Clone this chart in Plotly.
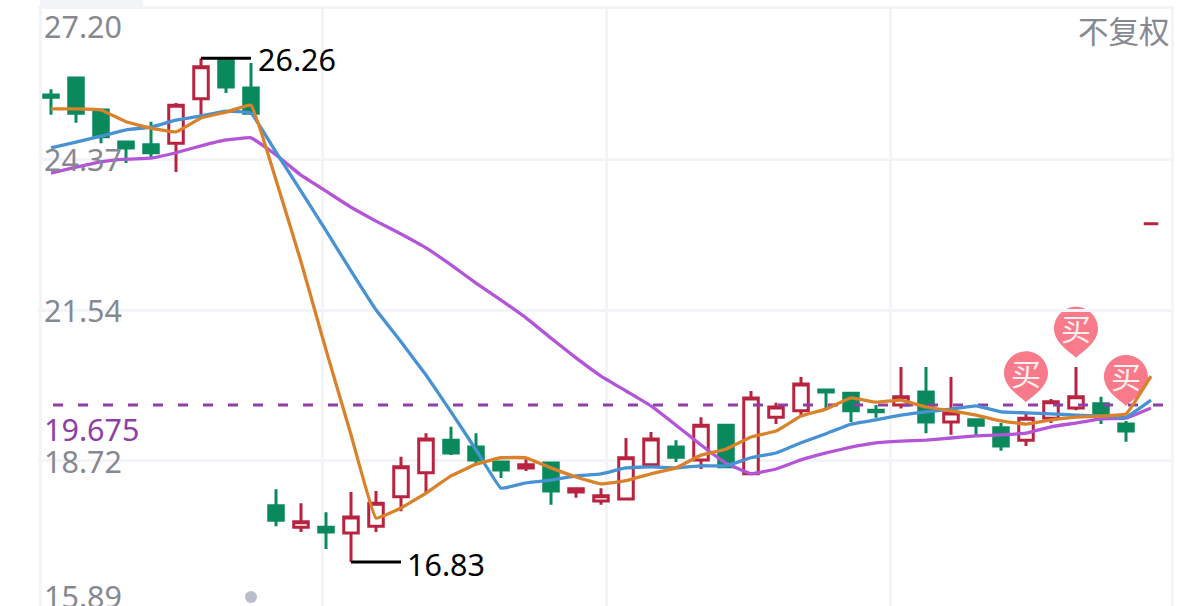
import plotly.graph_objects as go

index = list(range(45))
opens = [25.57,25.89,25.29,24.69,24.64,24.67,25.50,26.24,25.70,17.88,17.48,17.48,17.37,17.50,18.05,18.50,19.11,18.98,18.70,18.59,18.68,18.14,17.97,18.01,18.65,18.98,18.74,19.39,18.48,19.54,19.66,20.05,19.99,19.67,19.77,20.01,19.45,19.49,19.34,19.11,19.52,19.71,19.79,19.41,23.16]
highs = [25.68,25.89,25.29,24.69,25.07,25.42,26.26,26.26,26.17,18.19,17.93,17.76,18.14,18.16,18.80,19.24,19.36,19.24,18.70,18.76,18.68,18.23,18.21,19.15,19.26,19.11,19.54,19.39,20.03,19.81,20.29,20.05,19.99,19.77,20.48,20.48,20.29,19.49,19.43,19.60,19.88,20.48,19.92,19.47,23.16]
lows = [25.20,25.05,24.67,24.30,24.41,24.13,25.20,25.61,25.23,17.50,17.39,17.07,16.83,17.39,17.78,18.14,18.83,18.68,18.40,18.53,17.90,18.03,17.90,18.01,18.65,18.70,18.57,18.61,18.48,19.41,19.58,19.71,19.45,19.53,19.70,19.24,19.21,19.19,18.91,19.00,19.43,19.67,19.41,19.08,23.16]
closes = [25.53,25.23,24.79,24.58,24.49,25.38,26.10,25.72,25.23,17.61,17.58,17.39,17.67,17.93,18.61,19.13,18.87,18.74,18.55,18.65,18.16,18.20,18.07,18.78,19.13,18.79,19.39,18.61,19.90,19.73,20.16,20.01,19.66,19.64,19.92,19.45,19.62,19.39,19.00,19.52,19.83,19.92,19.56,19.28,23.16]

ma5 = [25.31,25.31,25.29,25.07,24.95,24.88,25.14,25.25,25.38,23.98,22.45,20.80,19.21,17.65,17.84,18.12,18.44,18.66,18.78,18.78,18.59,18.42,18.29,18.35,18.48,18.59,18.83,18.94,19.17,19.28,19.56,19.69,19.90,19.82,19.86,19.73,19.66,19.58,19.47,19.41,19.49,19.54,19.56,19.60,20.31]
ma10 = [24.58,24.69,24.80,24.92,24.97,25.10,25.18,25.27,25.23,24.50,23.77,23.03,22.28,21.55,20.95,20.33,19.64,18.93,18.21,18.31,18.36,18.44,18.48,18.59,18.61,18.59,18.63,18.63,18.78,18.87,19.06,19.23,19.41,19.49,19.58,19.64,19.69,19.75,19.64,19.62,19.60,19.58,19.56,19.54,19.86]
ma20 = [24.11,24.22,24.32,24.37,24.39,24.49,24.62,24.73,24.77,24.45,24.07,23.77,23.47,23.21,22.97,22.71,22.39,22.05,21.73,21.40,21.02,20.65,20.31,20.03,19.75,19.39,19.02,18.68,18.48,18.57,18.74,18.87,18.98,19.06,19.09,19.11,19.15,19.19,19.21,19.24,19.36,19.43,19.51,19.52,19.71]

price_grid = [27.20, 24.37, 21.54, 18.72]
price_labels = ["27.20", "24.37", "21.54", "18.72"]
price_label_values = [27.20, 24.37, 21.54, 18.72]
price_label_shift = [-18, 0, 0, 0]
bottom_label = "15.89"
time_grid = [-0.44, 10.84, 22.2, 33.56, 44.84]
ref_span = [-0.92, 44.6]
ref_price = 19.77
ref_label = "19.675"
high_idx, high_val = 6, 26.26
low_idx, low_val = 12, 16.83
buy_idx = [39, 41, 43]
buy_tip = [19.82, 20.65, 19.75]

GRID = "#f3f4f8"
GRAY = "#868991"
FONT = "Noto Sans, Noto Sans CJK SC, sans-serif"
RED, GREEN = "#b8233f", "#0a8a5c"
LEFT = 0.0032
SIZE = 30.5

fig = go.Figure()
fig.add_trace(go.Candlestick(
    x=index, open=opens, high=highs, low=lows, close=closes,
    increasing=dict(line=dict(color=RED, width=3), fillcolor="#ffffff"),
    decreasing=dict(line=dict(color=GREEN, width=3), fillcolor=GREEN),
    whiskerwidth=0, hoverinfo="skip", showlegend=False))

fig.add_trace(go.Scatter(x=ref_span, y=[ref_price, ref_price], mode="lines",
                         line=dict(color="#8e3fa8", width=3, dash="10px,15px"), showlegend=False))

for vals, col in ((ma20, "#b455d8"), (ma10, "#4692d4"), (ma5, "#d9822b")):
    fig.add_trace(go.Scatter(x=index, y=vals, mode="lines",
                             line=dict(color=col, width=3.3, shape="spline", smoothing=0.25),
                             showlegend=False))

fig.add_trace(go.Scatter(x=[high_idx, high_idx + 2], y=[high_val, high_val], mode="lines",
                         line=dict(color="#000000", width=3), showlegend=False))
fig.add_trace(go.Scatter(x=[low_idx, low_idx + 2], y=[low_val, low_val], mode="lines",
                         line=dict(color="#000000", width=3), showlegend=False))

annotations = []
for txt, v, s in zip(price_labels, price_label_values, price_label_shift):
    annotations.append(dict(x=LEFT, xref="paper", y=v, yref="y", yshift=s, text=txt, showarrow=False,
                            xanchor="left", yanchor="middle", font=dict(family=FONT, size=SIZE, color=GRAY)))
annotations.append(dict(x=LEFT, xref="paper", y=0.0167, yref="paper", text=bottom_label, showarrow=False,
                        xanchor="left", yanchor="middle", font=dict(family=FONT, size=SIZE, color=GRAY)))
annotations.append(dict(x=LEFT, xref="paper", y=ref_price, yref="y", yshift=-24, text=ref_label, showarrow=False,
                        xanchor="left", yanchor="middle", font=dict(family=FONT, size=SIZE, color="#8e3fa8")))
annotations.append(dict(x=high_idx + 2, y=high_val, xshift=5, yshift=-1, text=f"{high_val:.2f}", showarrow=False,
                        xanchor="left", yanchor="middle", font=dict(family=FONT, size=SIZE, color="#000000")))
annotations.append(dict(x=low_idx + 2, y=low_val, xshift=4, yshift=-2, text=f"{low_val:.2f}", showarrow=False,
                        xanchor="left", yanchor="middle", font=dict(family=FONT, size=SIZE, color="#000000")))
annotations.append(dict(x=0.998, xref="paper", y=0.959, yref="paper", text="不复权", showarrow=False,
                        xanchor="right", yanchor="middle", font=dict(family=FONT, size=SIZE, color=GRAY)))

PIN = "M0,0 C-6,6 -22,15 -22,29 C-22,41 -12,51 0,51 C12,51 22,41 22,29 C22,15 6,6 0,0 Z"
shapes = [dict(type="rect", xref="paper", yref="paper", x0=0.0018, x1=0.0924, y0=1.0, y1=1.012,
               fillcolor=GRID, line=dict(width=0)),
          dict(type="circle", xref="x", yref="paper", xsizemode="pixel", ysizemode="pixel",
               xanchor=8, yanchor=0.015, x0=-6, x1=6, y0=-6, y1=6, fillcolor="#b9bdc9", line=dict(width=0))]
for i, t in zip(buy_idx, buy_tip):
    shapes.append(dict(type="path", xref="x", yref="y", xsizemode="pixel", ysizemode="pixel",
                       xanchor=i, yanchor=t, path=PIN, fillcolor="#f97a8a", line=dict(width=0), layer="below"))
    annotations.append(dict(x=i, y=t, yshift=29, text="买", showarrow=False, xanchor="center", yanchor="middle",
                            font=dict(family=FONT, size=30, color="#fff0f0")))

fig.update_layout(
    width=1203, height=606, margin=dict(l=38, r=29, t=6, b=0), boxgap=0.17,
    paper_bgcolor="#ffffff", plot_bgcolor="#ffffff", showlegend=False,
    shapes=shapes, annotations=annotations,
    xaxis=dict(range=[-0.52, 44.92], tickvals=time_grid, showticklabels=False, ticks="",
               showgrid=True, gridcolor=GRID, gridwidth=3, zeroline=False, showline=False,
               rangeslider=dict(visible=False)),
    yaxis=dict(range=[16.005, 27.237], tickvals=price_grid, showticklabels=False, ticks="",
               showgrid=True, gridcolor=GRID, gridwidth=3, zeroline=False, showline=False),
)
fig.write_html("out.html", config={"displayModeBar": False},
               post_script="document.body.style.margin='0';document.documentElement.style.overflow='hidden';")
